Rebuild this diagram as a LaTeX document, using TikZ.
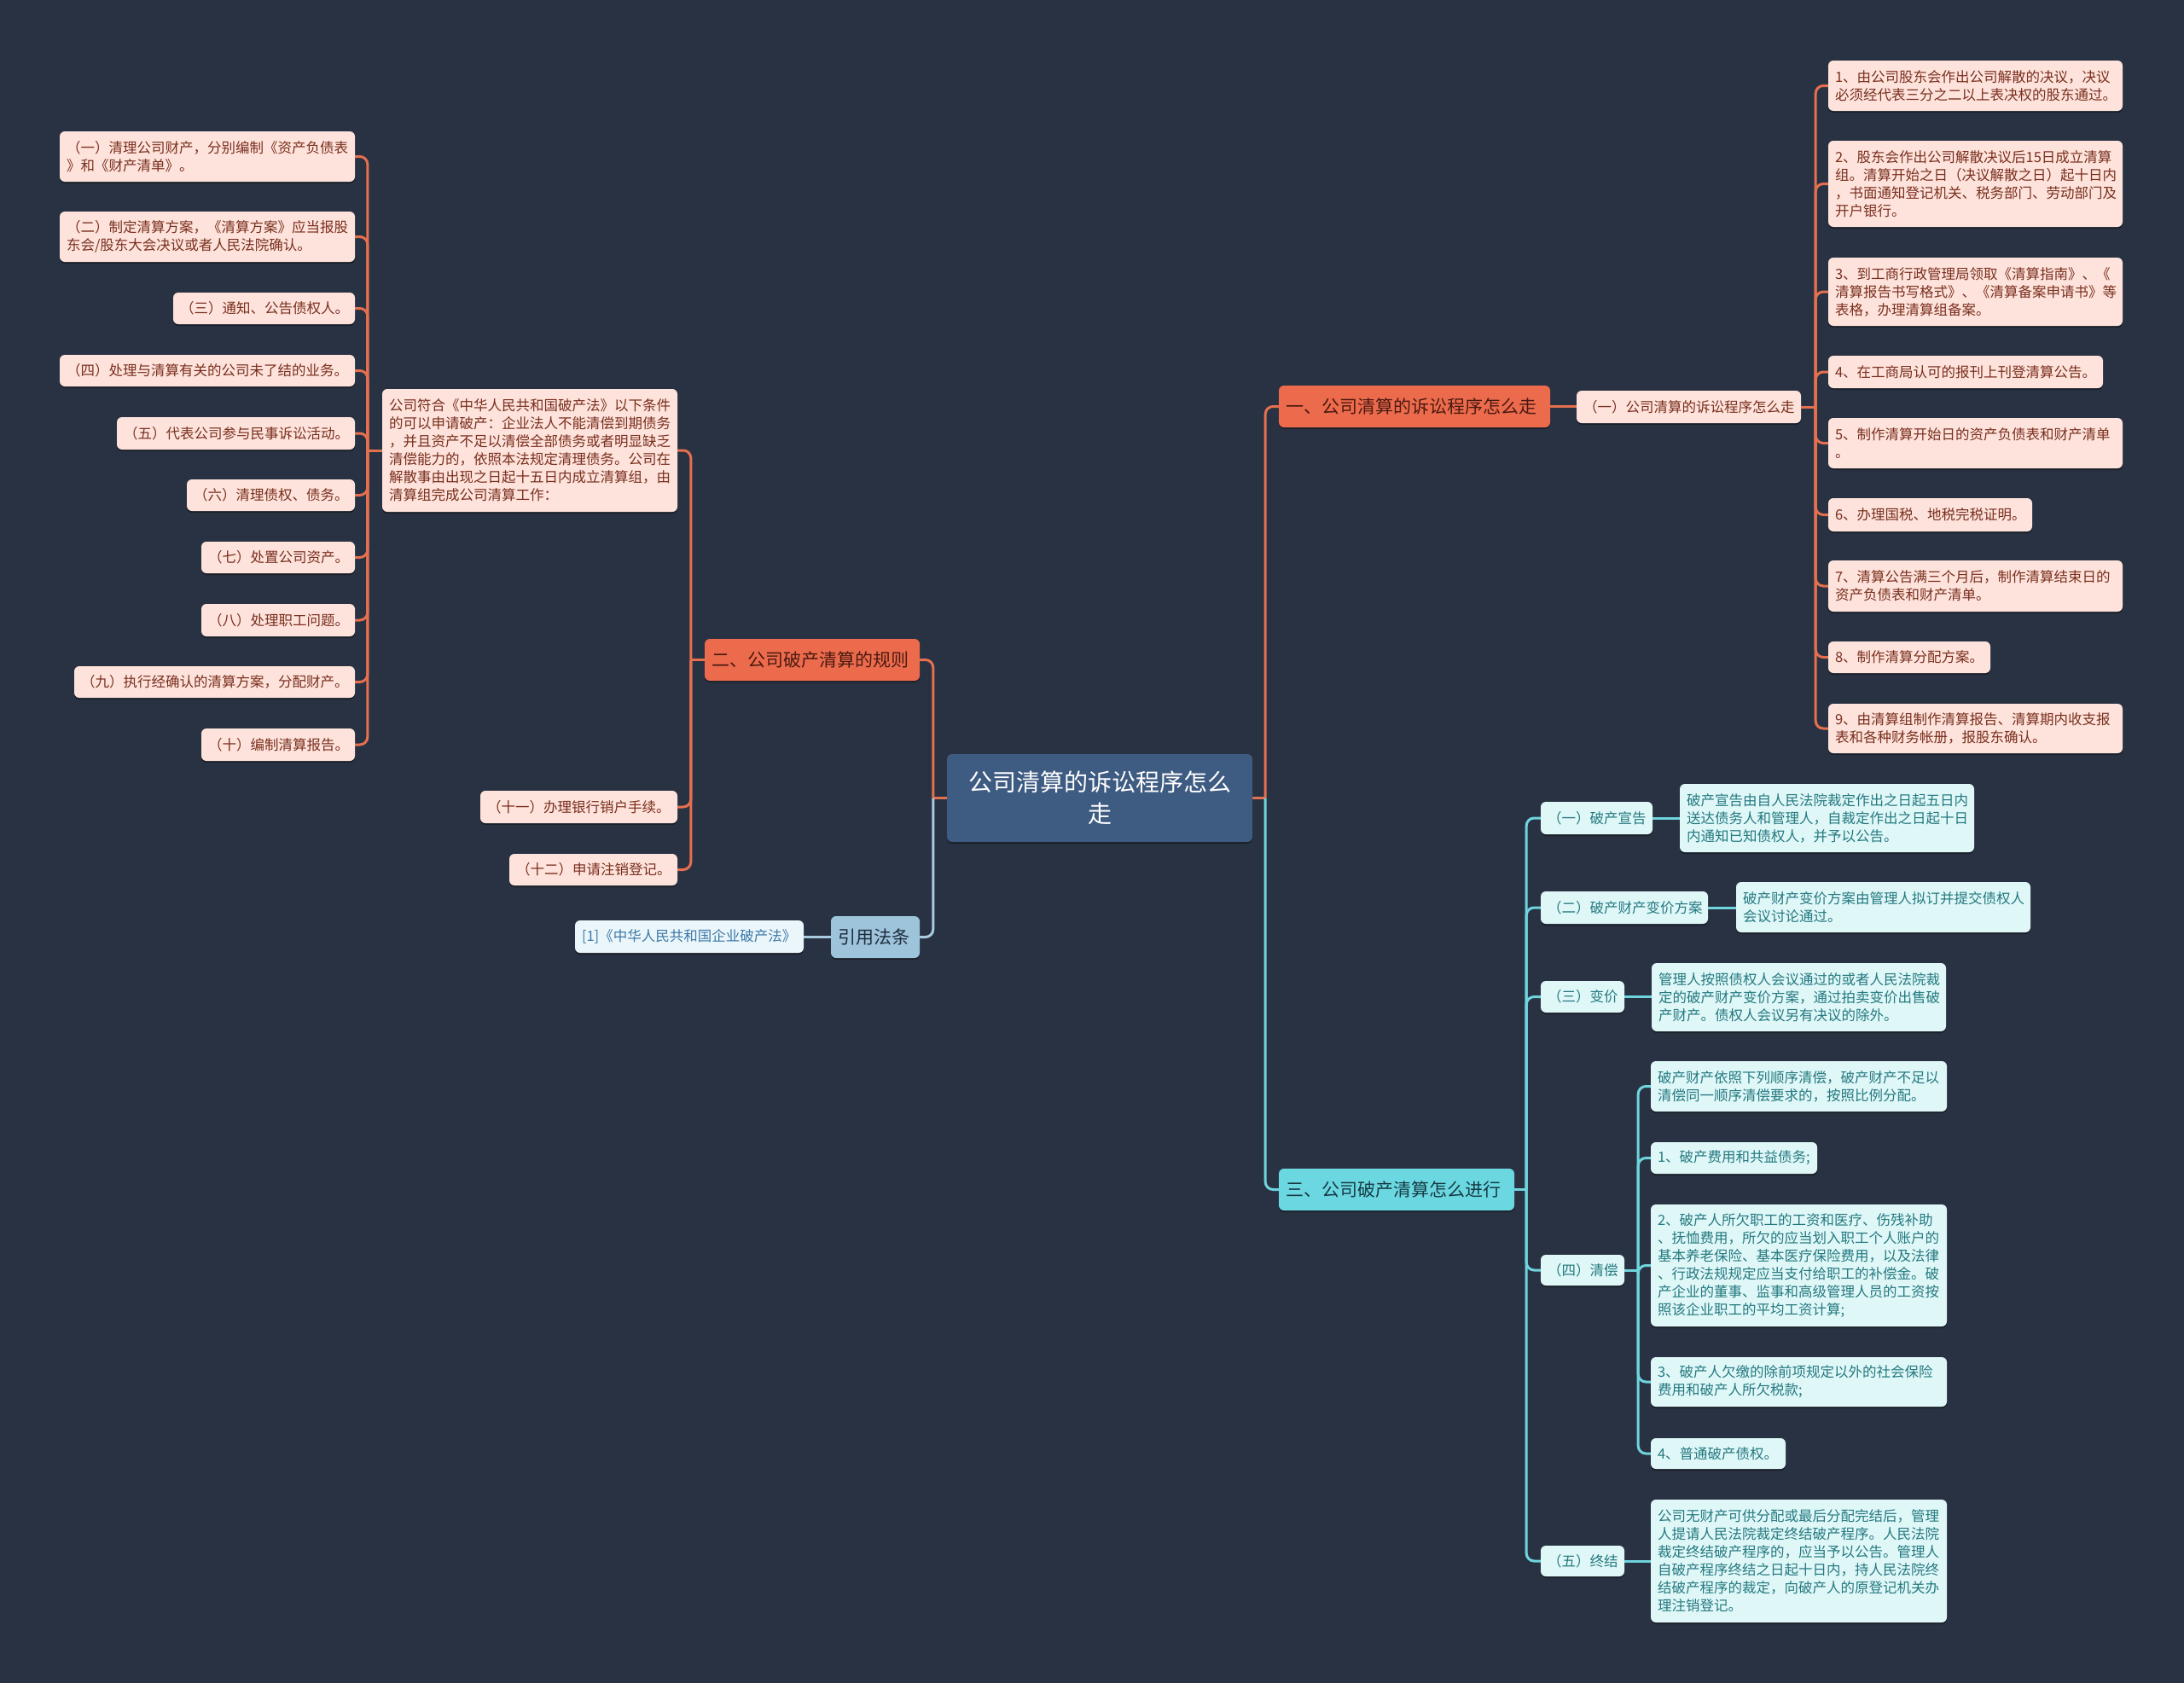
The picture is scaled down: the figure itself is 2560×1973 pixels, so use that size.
\documentclass[tikz,border=0pt]{standalone}
\usepackage{fontspec}
\setmainfont{Noto Sans CJK SC}
\usetikzlibrary{calc,shadows}
\definecolor{bgc}{HTML}{293242}
\definecolor{colO}{HTML}{E5704F}
\definecolor{colC}{HTML}{6ED5DE}
\definecolor{colB}{HTML}{A8CBE0}
\definecolor{pkfill}{HTML}{FDE3DB}
\definecolor{pktext}{HTML}{7A2E1E}
\definecolor{cyfill}{HTML}{E0F7F8}
\definecolor{cytext}{HTML}{23797F}
\definecolor{orfill}{HTML}{ED6B4D}
\definecolor{ortext}{HTML}{4A1A10}
\definecolor{cbfill}{HTML}{6BD8E1}
\definecolor{cbtext}{HTML}{173A44}
\definecolor{ctrfill}{HTML}{3E5B82}
\definecolor{reffill}{HTML}{9EC4DC}
\definecolor{reftext}{HTML}{1E2C3C}
\definecolor{lawfill}{HTML}{EBF6FA}
\definecolor{lawtext}{HTML}{3B78A8}
\pgfdeclarelayer{bg}
\pgfsetlayers{bg,main}
\tikzset{
  nd/.style={rounded corners=6pt, inner sep=0pt, align=left,
    font=\fontsize{16.5}{21}\selectfont,
    drop shadow={shadow xshift=0pt, shadow yshift=-2pt, opacity=0.35, fill=black}},
  pk/.style={nd, fill=pkfill, text=pktext},
  cy/.style={nd, fill=cyfill, text=cytext},
  brO/.style={nd, fill=orfill, text=ortext, font=\fontsize{21}{26}\selectfont},
  brC/.style={nd, fill=cbfill, text=cbtext, font=\fontsize{21}{26}\selectfont},
  ctr/.style={nd, fill=ctrfill, text=white, align=center, font=\fontsize{28}{37}\selectfont},
  refn/.style={nd, fill=reffill, text=reftext, font=\fontsize{21}{26}\selectfont},
  lawn/.style={nd, fill=lawfill, text=lawtext},
  ln/.style={line width=3pt, rounded corners=9pt},
  lo/.style={ln, draw=colO},
  lc/.style={ln, draw=colC},
  lb/.style={ln, draw=colB}
}
\newcommand\mkbox[7]{%
  \pgfmathsetmacro\bw{#5-#3}\pgfmathsetmacro\bh{#6-#4}%
  \pgfmathsetmacro\bcx{(#3+#5)/2}\pgfmathsetmacro\bcy{(#4+#6)/2}%
  \pgfmathsetmacro\tw{#5-#3-16}%
  \node[#1, minimum width=\bw pt, minimum height=\bh pt, text width=\tw pt] (#2) at (\bcx,\bcy) {#7};}
\begin{document}
\begin{tikzpicture}[x=1pt,y=-1pt]
\useasboundingbox (0,0) rectangle (2560,1973);
\begin{pgfonlayer}{bg}
\fill[bgc] (0,0) rectangle (2560,1973);
\end{pgfonlayer}

% ---- center
\mkbox{ctr}{center}{1110}{884}{1468}{987}{公司清算的诉讼程序怎么\\走}

% ---- left: branch two
\mkbox{brO}{b2}{826}{749}{1078}{798}{二、公司破产清算的规则}
\mkbox{pk}{big}{448}{456}{794}{600}{公司符合《中华人民共和国破产法》以下条件\\的可以申请破产：企业法人不能清偿到期债务\\，并且资产不足以清偿全部债务或者明显缺乏\\清偿能力的，依照本法规定清理债务。公司在\\解散事由出现之日起十五日内成立清算组，由\\清算组完成公司清算工作：}
\mkbox{pk}{l1}{70}{154}{416}{213}{（一）清理公司财产，分别编制《资产负债表\\》和《财产清单》。}
\mkbox{pk}{l2}{70}{248}{416}{307}{（二）制定清算方案，《清算方案》应当报股\\东会/股东大会决议或者人民法院确认。}
\mkbox{pk}{l3}{203}{343}{416}{380}{（三）通知、公告债权人。}
\mkbox{pk}{l4}{70}{416}{416}{453}{（四）处理与清算有关的公司未了结的业务。}
\mkbox{pk}{l5}{137}{489}{416}{527}{（五）代表公司参与民事诉讼活动。}
\mkbox{pk}{l6}{219}{562}{416}{599}{（六）清理债权、债务。}
\mkbox{pk}{l7}{236}{635}{416}{672}{（七）处置公司资产。}
\mkbox{pk}{l8}{236}{708}{416}{746}{（八）处理职工问题。}
\mkbox{pk}{l9}{87}{781}{416}{818}{（九）执行经确认的清算方案，分配财产。}
\mkbox{pk}{l10}{236}{854}{416}{892}{（十）编制清算报告。}
\mkbox{pk}{l11}{563}{927}{794}{965}{（十一）办理银行销户手续。}
\mkbox{pk}{l12}{597}{1001}{794}{1038}{（十二）申请注销登记。}

% ---- left: citation
\mkbox{refn}{ref}{974}{1074}{1078}{1123}{引用法条}
\mkbox{lawn}{law}{674}{1079}{942}{1117}{[1]《中华人民共和国企业破产法》}

% ---- right: branch one
\mkbox{brO}{b1}{1499}{452}{1817}{501}{一、公司清算的诉讼程序怎么走}
\mkbox{pk}{s1}{1848}{458}{2111}{496}{（一）公司清算的诉讼程序怎么走}
\mkbox{pk}{r1}{2143}{71}{2488}{130}{1、由公司股东会作出公司解散的决议，决议\\必须经代表三分之二以上表决权的股东通过。}
\mkbox{pk}{r2}{2143}{165}{2488}{266}{2、股东会作出公司解散决议后15日成立清算\\组。清算开始之日（决议解散之日）起十日内\\，书面通知登记机关、税务部门、劳动部门及\\开户银行。}
\mkbox{pk}{r3}{2143}{302}{2488}{382}{3、到工商行政管理局领取《清算指南》、《\\清算报告书写格式》、《清算备案申请书》等\\表格，办理清算组备案。}
\mkbox{pk}{r4}{2143}{417}{2465}{455}{4、在工商局认可的报刊上刊登清算公告。}
\mkbox{pk}{r5}{2143}{490}{2488}{549}{5、制作清算开始日的资产负债表和财产清单\\。}
\mkbox{pk}{r6}{2143}{584}{2382}{623}{6、办理国税、地税完税证明。}
\mkbox{pk}{r7}{2143}{657}{2488}{717}{7、清算公告满三个月后，制作清算结束日的\\资产负债表和财产清单。}
\mkbox{pk}{r8}{2143}{752}{2333}{789}{8、制作清算分配方案。}
\mkbox{pk}{r9}{2143}{825}{2488}{883}{9、由清算组制作清算报告、清算期内收支报\\表和各种财务帐册，报股东确认。}

% ---- right: branch three
\mkbox{brC}{b3}{1499}{1370}{1775}{1419}{三、公司破产清算怎么进行}
\mkbox{cy}{c1}{1806}{940}{1937}{978}{（一）破产宣告}
\mkbox{cy}{d1}{1969}{919}{2314}{999}{破产宣告由自人民法院裁定作出之日起五日内\\送达债务人和管理人，自裁定作出之日起十日\\内通知已知债权人，并予以公告。}
\mkbox{cy}{c2}{1806}{1045}{2002}{1083}{（二）破产财产变价方案}
\mkbox{cy}{d2}{2035}{1034}{2380}{1093}{破产财产变价方案由管理人拟订并提交债权人\\会议讨论通过。}
\mkbox{cy}{c3}{1806}{1150}{1904}{1187}{（三）变价}
\mkbox{cy}{d3}{1936}{1129}{2281}{1209}{管理人按照债权人会议通过的或者人民法院裁\\定的破产财产变价方案，通过拍卖变价出售破\\产财产。债权人会议另有决议的除外。}
\mkbox{cy}{c4}{1806}{1471}{1904}{1507}{（四）清偿}
\mkbox{cy}{e1}{1935}{1244}{2282}{1303}{破产财产依照下列顺序清偿，破产财产不足以\\清偿同一顺序清偿要求的，按照比例分配。}
\mkbox{cy}{e2}{1935}{1339}{2130}{1376}{1、破产费用和共益债务;}
\mkbox{cy}{e3}{1935}{1412}{2282}{1555}{2、破产人所欠职工的工资和医疗、伤残补助\\、抚恤费用，所欠的应当划入职工个人账户的\\基本养老保险、基本医疗保险费用，以及法律\\、行政法规规定应当支付给职工的补偿金。破\\产企业的董事、监事和高级管理人员的工资按\\照该企业职工的平均工资计算;}
\mkbox{cy}{e4}{1935}{1591}{2282}{1649}{3、破产人欠缴的除前项规定以外的社会保险\\费用和破产人所欠税款;}
\mkbox{cy}{e5}{1935}{1686}{2093}{1722}{4、普通破产债权。}
\mkbox{cy}{c5}{1806}{1812}{1904}{1848}{（五）终结}
\mkbox{cy}{d5}{1935}{1758}{2282}{1902}{公司无财产可供分配或最后分配完结后，管理\\人提请人民法院裁定终结破产程序。人民法院\\裁定终结破产程序的，应当予以公告。管理人\\自破产程序终结之日起十日内，持人民法院终\\结破产程序的裁定，向破产人的原登记机关办\\理注销登记。}

% ---- connectors
\begin{pgfonlayer}{bg}
\draw[lo] (center.west) -- ++(-16,0);
\draw[lo] ($(center.west)+(-16,0)$) |- (b2.east);
\draw[lb] ($(center.west)+(-16,0)$) |- (ref.east);
\draw[lb] (ref.west) -- (ref.west -| law.east);
\draw[lo] (b2.west) -- ++(-16,0);
\foreach \c in {big,l11,l12}
  \draw[lo] ($(b2.west)+(-16,0)$) |- (\c.east);
\draw[lo] (big.west) -- ++(-17,0);
\foreach \c in {l1,l2,l3,l4,l5,l6,l7,l8,l9,l10}
  \draw[lo] ($(big.west)+(-17,0)$) |- (\c.east);
\draw[lo] (center.east) -- ++(15,0);
\draw[lo] ($(center.east)+(15,0)$) |- (b1.west);
\draw[lc] ($(center.east)+(15,0)$) |- (b3.west);
\draw[lo] (b1.east) -- (b1.east -| s1.west);
\draw[lo] (s1.east) -- ++(17,0);
\foreach \c in {r1,r2,r3,r4,r5,r6,r7,r8,r9}
  \draw[lo] ($(s1.east)+(17,0)$) |- (\c.west);
\draw[lc] (b3.east) -- ++(14,0);
\foreach \c in {c1,c2,c3,c4,c5}
  \draw[lc] ($(b3.east)+(14,0)$) |- (\c.west);
\draw[lc] (c1.east) -- (c1.east -| d1.west);
\draw[lc] (c2.east) -- (c2.east -| d2.west);
\draw[lc] (c3.east) -- (c3.east -| d3.west);
\draw[lc] (c5.east) -- (c5.east -| d5.west);
\draw[lc] (c4.east) -- ++(16,0);
\foreach \c in {e1,e2,e3,e4,e5}
  \draw[lc] ($(c4.east)+(16,0)$) |- (\c.west);
\end{pgfonlayer}
\end{tikzpicture}
\end{document}
